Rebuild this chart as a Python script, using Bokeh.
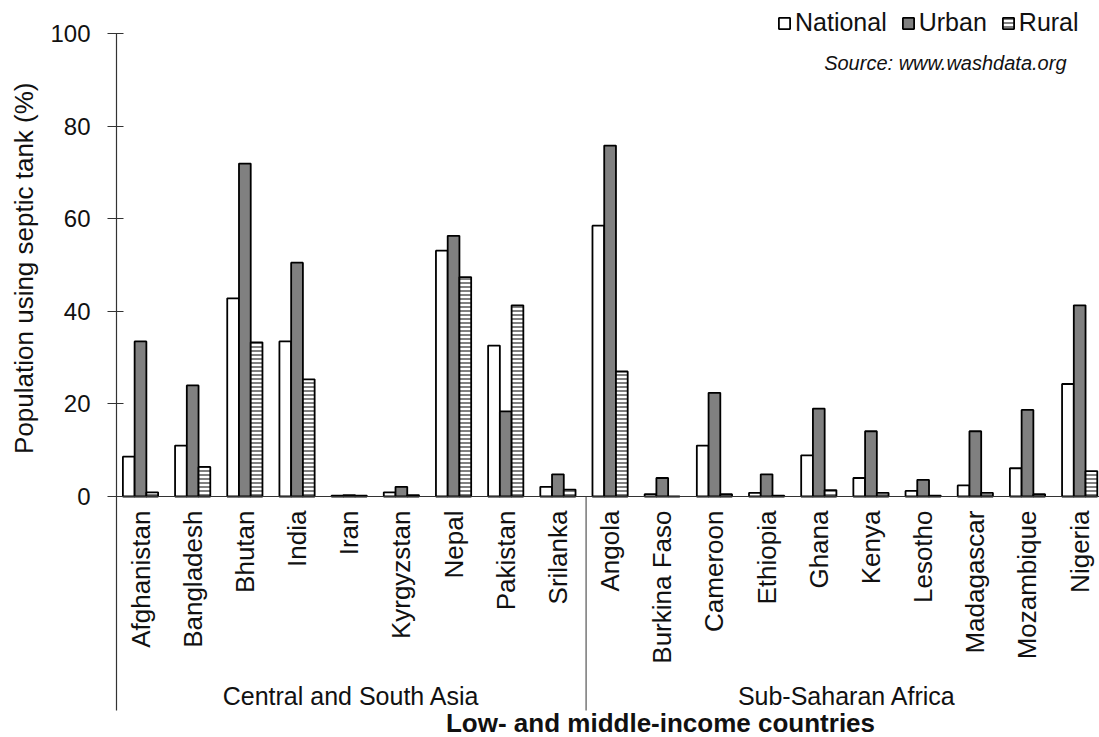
import math
from bokeh.plotting import figure
from bokeh.models import Range1d, FixedTicker, Span, Label, Legend, LegendItem, ColumnDataSource, Title
from bokeh.core.properties import value
from bokeh.embed import file_html
from bokeh.resources import INLINE

# ---------------- data ----------------
regions = ["Central and South Asia", "Sub-Saharan Africa"]
region_sizes = [9, 10]
countries = ["Afghanistan", "Bangladesh", "Bhutan", "India", "Iran", "Kyrgyzstan", "Nepal",
             "Pakistan", "Srilanka", "Angola", "Burkina Faso", "Cameroon", "Ethiopia", "Ghana",
             "Kenya", "Lesotho", "Madagascar", "Mozambique", "Nigeria"]
national = [8.6, 11.0, 42.8, 33.5, 0.2, 0.9, 53.1, 32.6, 2.1,
            58.5, 0.5, 11.0, 0.8, 8.9, 4.0, 1.2, 2.4, 6.1, 24.3]
urban = [33.5, 24.0, 71.9, 50.5, 0.3, 2.1, 56.3, 18.4, 4.8,
         75.8, 4.0, 22.4, 4.8, 19.0, 14.1, 3.6, 14.1, 18.7, 41.3]
rural = [0.9, 6.4, 33.3, 25.3, 0.2, 0.3, 47.4, 41.3, 1.5,
         27.0, 0.0, 0.5, 0.2, 1.4, 0.8, 0.2, 0.8, 0.5, 5.5]
y_ticks = [0, 20, 40, 60, 80, 100]
series_names = ["National", "Urban", "Rural"]

# ---------------- layout constants ----------------
FONT = "Liberation Sans"
TEXT_COLOR = "#111111"
LINE_COLOR = "#333333"
BAR_W = 0.225
GROUP_CENTER = 0.46
Y_MIN, Y_MAX = -52.05, 107.13
SEP_BOTTOM = -46.2
X_MAX = 18.84

W, H = 1099, 737
p = figure(width=W, height=H, output_backend="svg", toolbar_location=None,
           x_range=Range1d(0, X_MAX), y_range=Range1d(Y_MIN, Y_MAX),
           x_axis_location=None, min_border_left=116, min_border_right=0,
           min_border_top=0, min_border_bottom=0)
p.outline_line_color = None
p.xgrid.visible = False
p.ygrid.visible = False
p.background_fill_color = "white"
p.border_fill_color = "white"

xs = [i + GROUP_CENTER for i in range(len(countries))]
src = ColumnDataSource(dict(
    x_nat=[x - BAR_W for x in xs], x_urb=xs, x_rur=[x + BAR_W for x in xs],
    national=national, urban=urban, rural=rural, country=countries, xc=xs,
    label_y=[0] * len(countries)))

r_nat = p.vbar(x="x_nat", top="national", bottom=0, width=BAR_W, source=src,
               fill_color="white", line_color="black", line_width=1.8)
r_urb = p.vbar(x="x_urb", top="urban", bottom=0, width=BAR_W, source=src,
               fill_color="#808080", line_color="black", line_width=1.8)
r_rur = p.vbar(x="x_rur", top="rural", bottom=0, width=BAR_W, source=src,
               fill_color="white", line_color="black", line_width=1.8,
               hatch_pattern="horizontal_line", hatch_color="#808080",
               hatch_scale=4.0, hatch_weight=2.0)

# horizontal axis line at zero
p.add_layout(Span(location=0, dimension="width", line_color=LINE_COLOR, line_width=1.2))

# group separators and group centres (from cumulative region sizes)
bounds, centers = [], []
acc = 0
for n in region_sizes:
    centers.append(acc + n / 2)
    acc += n
    bounds.append(acc)
p.segment(x0=bounds, x1=bounds, y0=[0] * len(bounds), y1=[SEP_BOTTOM] * len(bounds),
          line_color="#555555", line_width=1.2)

# country labels (rotated, reading upward, top-aligned under the axis)
p.text(x="xc", y="label_y", text="country", source=src, angle=math.pi / 2,
       text_align="right", text_baseline="middle", y_offset=14,
       text_font=value(FONT), text_font_size="26px", text_color=TEXT_COLOR)

# region labels
p.text(x=centers, y=[0, 0], text=regions, text_align="center",
       text_baseline="middle", y_offset=199,
       text_font=value(FONT), text_font_size="25px", text_color=TEXT_COLOR)

# y axis
ya = p.yaxis[0]
ya.ticker = FixedTicker(ticks=y_ticks)
ya.bounds = (SEP_BOTTOM, 100)
ya.minor_tick_line_color = None
ya.major_tick_in = 7
ya.major_tick_out = 9
ya.major_tick_line_color = LINE_COLOR
ya.major_tick_line_width = 1.2
ya.axis_line_color = LINE_COLOR
ya.axis_line_width = 1.2
ya.major_label_text_font = FONT
ya.major_label_text_font_size = "24px"
ya.major_label_text_color = TEXT_COLOR
ya.major_label_standoff = 17

p.add_layout(Title(text="Population using septic tank (%)", align="right", offset=82,
                   text_font=FONT, text_font_size="26px", text_font_style="normal",
                   text_color=TEXT_COLOR, standoff=14, vertical_align="top"), "left")

# x axis title
p.add_layout(Label(x=544, x_units="screen", y=0, y_units="screen",
                   text="Low- and middle-income countries",
                   text_align="center", text_baseline="bottom",
                   text_font=FONT, text_font_size="26px", text_font_style="bold",
                   text_color=TEXT_COLOR))

# source note
p.add_layout(Label(x=950, x_units="screen", y=93.7, y_units="data",
                   text="Source: www.washdata.org", text_align="right",
                   text_baseline="middle", text_font=FONT, text_font_size="20px",
                   text_font_style="italic", text_color=TEXT_COLOR))

legend = Legend(items=[LegendItem(label=series_names[0], renderers=[r_nat]),
                       LegendItem(label=series_names[1], renderers=[r_urb]),
                       LegendItem(label=series_names[2], renderers=[r_rur])],
                orientation="horizontal", location=(661, 700),
                glyph_width=14, glyph_height=14, label_standoff=4, spacing=14,
                padding=0, margin=0, border_line_color=None,
                background_fill_alpha=0, label_text_font=FONT,
                label_text_font_size="25px", label_text_color=TEXT_COLOR)
p.add_layout(legend, "center")

open("out.html", "w").write(file_html(p, INLINE))
